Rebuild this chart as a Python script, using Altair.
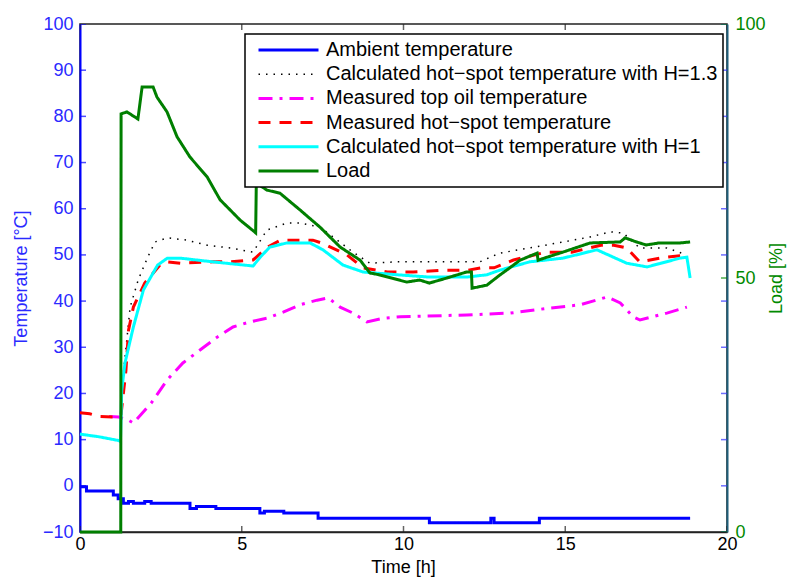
import altair as alt
import pandas as pd

FONT = "Liberation Sans"

# ---------------- data ----------------
series_names = [
    "Ambient temperature",
    "Calculated hot\u2212spot temperature with H=1.3",
    "Measured top oil temperature",
    "Measured hot\u2212spot temperature",
    "Calculated hot\u2212spot temperature with H=1",
    "Load",
]
series_colors = ["#0000ff", "#000000", "#ff00ff", "#ff0000", "#00ffff", "#007f00"]
series_dashes = [[1, 0], [1.5, 6], [14, 7, 3, 7], [12, 9], [1, 0], [1, 0]]
series_widths = [3, 1.5, 3, 3, 3, 3]

ambient_t = [0, 0.2, 1.03, 1.18, 1.34, 1.5, 1.65, 2.0, 2.2, 3.4, 3.6, 4.2, 5.56, 5.7, 6.3, 7.36, 10.8, 12.7, 12.8, 14.2, 18.86]
ambient_v = [-0.2, -1.1, -2.0, -2.8, -3.8, -3.4, -3.8, -3.4, -3.8, -4.9, -4.5, -4.9, -5.9, -5.5, -5.9, -7.0, -8.0, -7.0, -8.0, -7.0, -7.0]

hs13_t = [1.27, 1.35, 1.55, 1.8, 2.08, 2.32, 2.7, 3.3, 3.93, 4.64, 5.35, 5.78, 6.4, 6.8, 7.42, 7.95, 8.44, 8.96, 9.8, 10.8, 11.7, 12.36, 12.98, 13.9, 14.93, 15.77, 16.4, 16.8, 17.3, 18.14, 18.76]
hs13_v = [15.0, 25.0, 38.7, 44.6, 49.3, 52.8, 53.7, 53.2, 52.1, 51.5, 50.6, 55.4, 56.9, 56.9, 56.0, 53.2, 50.6, 48.2, 48.5, 48.5, 48.5, 48.5, 50.4, 51.5, 52.8, 53.9, 55.0, 54.7, 51.5, 51.5, 50.0]

topoil_t = [0.9, 1.2, 1.5, 1.65, 2.2, 2.69, 3.18, 3.71, 4.24, 4.73, 5.26, 5.78, 6.28, 6.8, 7.33, 7.67, 8.04, 8.44, 8.87, 9.37, 9.9, 11.96, 13.29, 14.53, 15.46, 16.3, 16.7, 17.1, 17.31, 18.14, 18.76]
topoil_v = [15.0, 14.9, 14.2, 13.6, 17.9, 22.9, 26.6, 29.4, 32.2, 34.4, 35.5, 36.3, 37.6, 39.2, 40.2, 40.7, 38.7, 37.4, 35.5, 36.3, 36.6, 37.0, 37.4, 38.5, 39.2, 40.9, 39.6, 36.6, 35.9, 37.4, 38.7]

hsmeas_t = [0, 0.3, 0.6, 1.0, 1.2, 1.27, 1.42, 1.5, 1.65, 2.0, 2.47, 2.7, 3.1, 4.1, 4.6, 5.35, 5.8, 6.2, 7.2, 7.5, 8.25, 8.75, 9.5, 10.3, 11.3, 12.0, 12.4, 12.8, 13.4, 14.4, 15.2, 16.1, 16.5, 16.9, 17.3, 18.1, 18.8]
hsmeas_v = [15.8, 15.6, 15.0, 14.9, 14.9, 15.5, 25.0, 33.7, 38.7, 43.9, 47.8, 48.5, 48.2, 48.5, 48.5, 48.9, 51.7, 53.2, 53.2, 52.5, 50.0, 47.2, 46.3, 46.3, 46.7, 46.7, 47.2, 47.2, 48.9, 50.6, 50.6, 52.1, 52.1, 51.5, 48.5, 49.5, 50.0]

hs1_t = [0, 0.6, 1.2, 1.25, 1.29, 1.39, 1.65, 1.96, 2.4, 2.7, 3.1, 4.1, 5.35, 5.57, 5.87, 6.4, 7.11, 7.51, 8.13, 8.75, 9.8, 10.8, 11.96, 12.58, 12.98, 13.9, 14.93, 15.98, 16.9, 17.53, 18.55, 18.76, 18.86]
hs1_v = [11.2, 10.6, 9.8, 9.6, 20.7, 26.6, 34.4, 42.4, 47.8, 49.3, 49.3, 48.5, 47.6, 49.5, 51.7, 52.6, 52.6, 51.1, 47.8, 46.3, 45.7, 45.2, 45.2, 45.7, 46.7, 48.5, 49.3, 51.1, 48.2, 47.4, 49.3, 49.5, 45.0]

load_t = [0, 1.26, 1.27, 1.45, 1.79, 1.92, 2.26, 2.38, 2.69, 3.0, 3.4, 3.93, 4.33, 4.95, 5.43, 5.45, 5.78, 6.18, 6.8, 7.42, 8.04, 8.66, 8.96, 9.27, 10.1, 10.5, 10.8, 11.34, 11.96, 12.1, 12.12, 12.58, 12.98, 13.2, 13.6, 14.13, 14.16, 14.44, 14.93, 15.77, 16.7, 16.85, 17.2, 17.5, 17.9, 18.55, 18.86]
load_v = [0, 0, 82.3, 82.7, 81.3, 87.6, 87.6, 85.6, 82.7, 77.8, 73.8, 69.9, 65.4, 61.4, 58.9, 68.7, 67.3, 66.7, 63.4, 60.0, 56.1, 53.5, 51.0, 50.6, 49.2, 49.6, 49.0, 50.0, 51.2, 51.2, 48.0, 48.6, 50.6, 51.6, 53.5, 54.9, 53.5, 54.1, 55.1, 56.9, 57.1, 57.9, 57.1, 56.5, 56.9, 56.9, 57.1]

time_ticks = [0, 5, 10, 15, 20]
temp_ticks = list(range(-10, 101, 10))
load_ticks = [0, 50, 100]

# ---------------- build tables ----------------
temp_sets = [
    (series_names[0], ambient_t, ambient_v, "step-after"),
    (series_names[1], hs13_t, hs13_v, "linear"),
    (series_names[2], topoil_t, topoil_v, "linear"),
    (series_names[3], hsmeas_t, hsmeas_v, "linear"),
    (series_names[4], hs1_t, hs1_v, "linear"),
]
temp_df = pd.concat(
    [pd.DataFrame({"t": ts, "v": vs, "series": n}) for n, ts, vs, _ in temp_sets],
    ignore_index=True,
)
load_df = pd.DataFrame({"t": load_t, "v": load_v, "series": series_names[5]})

xs = alt.Scale(domain=[0, 20], nice=False, zero=False)
ys_t = alt.Scale(domain=[-10, 100], nice=False, zero=False)
ys_l = alt.Scale(domain=[0, 100], nice=False, zero=False)

color_scale = alt.Scale(domain=series_names, range=series_colors)
dash_scale = alt.Scale(domain=series_names, range=series_dashes)
width_scale = alt.Scale(type="ordinal", domain=series_names, range=series_widths)

legend = alt.Legend(
    title=None, orient="none", legendX=165, legendY=10,
    symbolType="stroke", symbolSize=3600, symbolOffset=7,
    labelFontSize=20, labelFont=FONT, labelLimit=600, labelColor="black",
    labelOffset=6, padding=5, rowPadding=2.2, clipHeight=22,
    fillColor="white", strokeColor="black",
)

x_axis = alt.Axis(
    values=time_ticks, ticks=False, tickSize=0, labelFontSize=18, labelFont=FONT,
    labelColor="black", labelPadding=3, labelFlush=False, domainColor="#222222",
    domainWidth=1.5, grid=False, title="Time [h]", titleFontSize=18, titleFont=FONT,
    titleFontWeight="normal", titleColor="black", titleX=323, titleY=40,
    titleBaseline="alphabetic", titleAlign="center",
)
yl_axis = alt.Axis(
    orient="left", values=temp_ticks, ticks=False, tickSize=0, labelFontSize=18,
    labelFont=FONT, labelColor="#2a2aff", labelPadding=7, domainColor="#0000ff",
    domainWidth=2, grid=False, title="Temperature [\u00b0C]", titleColor="#2a2aff",
    titleFontSize=18, titleFont=FONT, titleFontWeight="normal", titleAngle=270,
    titleX=-59, titleY=254, titleBaseline="middle", titleAlign="center",
)
yr_axis = alt.Axis(
    orient="right", values=load_ticks, ticks=False, tickSize=0, labelFontSize=18,
    labelFont=FONT, labelColor="#008a00", labelPadding=8, domainColor="#1f5f7a",
    domainWidth=2, grid=False, title="Load [%]", titleColor="#008a00",
    titleFontSize=18, titleFont=FONT, titleFontWeight="normal", titleAngle=270,
    titleX=49, titleY=254, titleBaseline="middle", titleAlign="center",
)

X_T = alt.X("t:Q", scale=xs, axis=x_axis, title="Time [h]")
Y_T = alt.Y("v:Q", scale=ys_t, axis=yl_axis, title="Temperature [\u00b0C]")
Y_L = alt.Y("v:Q", scale=ys_l, axis=yr_axis, title="Load [%]")


def enc_common():
    return dict(
        color=alt.Color("series:N", scale=color_scale, legend=legend),
        strokeDash=alt.StrokeDash("series:N", scale=dash_scale, legend=legend),
        strokeWidth=alt.StrokeWidth("series:N", scale=width_scale, legend=legend),
    )


temp_layers = []
for name, _, _, interp in temp_sets:
    temp_layers.append(
        alt.Chart(temp_df)
        .transform_filter(alt.datum.series == name)
        .mark_line(interpolate=interp)
        .encode(x=X_T, y=Y_T, **enc_common())
    )


def tick_layer(df, orient, color, yenc):
    return alt.Chart(df).mark_tick(
        orient=orient, size=12, thickness=1.5, color=color, clip=True
    ).encode(x=X_T, y=yenc)


# inward ticks (the inner half of a centred, clipped tick)
ticks_left = tick_layer(pd.DataFrame({"t": 0, "v": temp_ticks}), "horizontal", "#0000ff", Y_T)
ticks_right_t = tick_layer(pd.DataFrame({"t": 20, "v": temp_ticks}), "horizontal", "#3030ff", Y_T)
ticks_bottom = tick_layer(pd.DataFrame({"t": time_ticks, "v": -10}), "vertical", "#222222", Y_T)
ticks_top = tick_layer(pd.DataFrame({"t": time_ticks, "v": 100}), "vertical", "#222222", Y_T)

temp_group = alt.layer(*temp_layers, ticks_left, ticks_right_t, ticks_bottom, ticks_top)

load_line = alt.Chart(load_df).mark_line().encode(x=X_T, y=Y_L, **enc_common())
ticks_right_l = tick_layer(pd.DataFrame({"t": 20, "v": load_ticks}), "horizontal", "#008a00", Y_L)

load_group = alt.layer(load_line, ticks_right_l)

chart = (
    alt.layer(temp_group, load_group)
    .resolve_scale(y="independent")
    .properties(
        width=647, height=508,
        padding={"left": 72, "top": 16, "right": 61, "bottom": 45},
        autosize=alt.AutoSizeParams(type="none"),
        background="white",
    )
    .configure(font=FONT)
    .configure_view(stroke="#222222", strokeWidth=1.5)
    .configure_legend(strokeWidth=1.5)
)

chart.save("out.html", embed_options={"renderer": "svg", "actions": False})
